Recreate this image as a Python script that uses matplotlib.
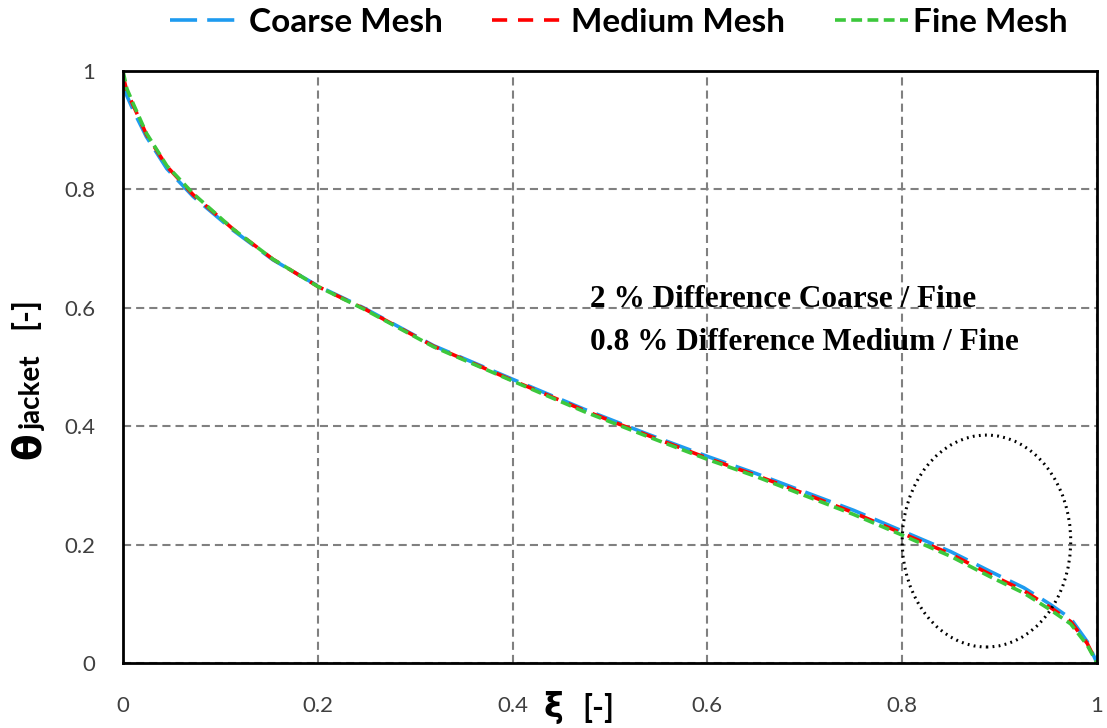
import matplotlib.pyplot as plt
from matplotlib.patches import Ellipse

# values
xi = [0.0, 0.004, 0.011, 0.024, 0.045, 0.072, 0.113, 0.154, 0.2, 0.247,
      0.319, 0.399, 0.473, 0.538, 0.6, 0.65, 0.695, 0.75, 0.8, 0.85,
      0.89, 0.925, 0.952, 0.973, 0.99, 1.0]

theta_coarse = [0.979, 0.958, 0.932, 0.889, 0.835, 0.788, 0.731, 0.681, 0.637, 0.600,
                0.536, 0.480, 0.429, 0.387, 0.349, 0.320, 0.292, 0.258, 0.223, 0.188,
                0.155, 0.127, 0.099, 0.075, 0.036, 0.0]
theta_medium = [0.992, 0.966, 0.940, 0.893, 0.839, 0.791, 0.733, 0.682, 0.636, 0.599,
                0.535, 0.478, 0.427, 0.385, 0.346, 0.317, 0.289, 0.254, 0.219, 0.184,
                0.150, 0.122, 0.094, 0.070, 0.033, 0.0]
theta_fine = [1.0, 0.970, 0.943, 0.895, 0.840, 0.793, 0.733, 0.682, 0.636, 0.598,
              0.534, 0.477, 0.425, 0.383, 0.344, 0.315, 0.286, 0.251, 0.216, 0.180,
              0.146, 0.118, 0.090, 0.066, 0.030, 0.0]

labels = ['Coarse Mesh', 'Medium Mesh', 'Fine Mesh']
notes = ['2 % Difference Coarse / Fine', '0.8 % Difference Medium / Fine']
ticks = [0, 0.2, 0.4, 0.6, 0.8, 1]
tick_labels = ['0', '0.2', '0.4', '0.6', '0.8', '1']

W, H = 1107, 728
fig = plt.figure(figsize=(W / 100, H / 100), dpi=100)
ax = fig.add_axes([123 / W, 1 - 663 / H, 974 / W, 592 / H])


def fx(px):
    return px / W


def fy(py):
    return 1 - py / H


lw = 2.6
l1, = ax.plot(xi, theta_coarse, color='#1E9BF0', lw=lw, dashes=(7.5, 2.8), label=labels[0])
l2, = ax.plot(xi, theta_medium, color='#FF0000', lw=lw, dashes=(4.2, 3.0), label=labels[1])
l3, = ax.plot(xi, theta_fine, color='#3CC83C', lw=lw, dashes=(3.0, 1.5), label=labels[2])
for ln in (l1, l2, l3):
    ln.set_dash_capstyle('butt')

ax.add_patch(Ellipse((0.8865, 0.206), 0.173, 0.358, fill=False, color='black',
                     lw=2.2, linestyle=(0, (0.6, 1.4)), clip_on=False, zorder=5))

ax.set_xlim(0, 1)
ax.set_ylim(0, 1)
ax.set_xticks(ticks)
ax.set_yticks(ticks)
ax.set_xticklabels(tick_labels)
ax.set_yticklabels(tick_labels)
ax.tick_params(length=0, labelsize=16, labelcolor='#404040')
ax.tick_params(axis='x', pad=24)
ax.tick_params(axis='y', pad=20)
for t in ax.get_xticklabels() + ax.get_yticklabels():
    t.set_fontfamily('Lato')

ax.grid(True, color='#808080', lw=1.5, dashes=(3.9, 2.4))
for s in ax.spines.values():
    s.set_linewidth(2)
    s.set_color('black')

# annotation
fig.text(fx(590), fy(307), notes[0], family='Liberation Serif', weight='bold',
         fontsize=22.5, va='baseline', ha='left')
fig.text(fx(590), fy(350), notes[1], family='Liberation Serif', weight='bold',
         fontsize=22.5, va='baseline', ha='left')

# axis labels
fig.text(fx(553), fy(708), 'ξ', family='DejaVu Sans', weight='bold', fontsize=24,
         ha='center', va='center')
fig.text(fx(598), fy(708), '[-]', family='Lato', weight='bold', fontsize=23,
         ha='center', va='center')
fig.text(fx(29), fy(446), 'θ', family='DejaVu Sans', weight='bold', fontsize=28, rotation=90,
         ha='center', va='center')
fig.text(fx(33), fy(393), 'jacket', family='Lato', weight='bold', fontsize=20, rotation=90,
         ha='center', va='center')
fig.text(fx(24), fy(313), '[-]', family='Lato', weight='bold', fontsize=23, rotation=90,
         ha='center', va='center')

fig.legend(handles=[l1, l2, l3], loc='center', bbox_to_anchor=(fx(619), fy(22)),
           ncol=3, frameon=False, prop={'family': 'Lato', 'weight': 'bold', 'size': 24},
           handlelength=2.2, handletextpad=0.15, columnspacing=1.5,
           borderpad=0, borderaxespad=0)

fig.savefig('out.png', dpi=100)
